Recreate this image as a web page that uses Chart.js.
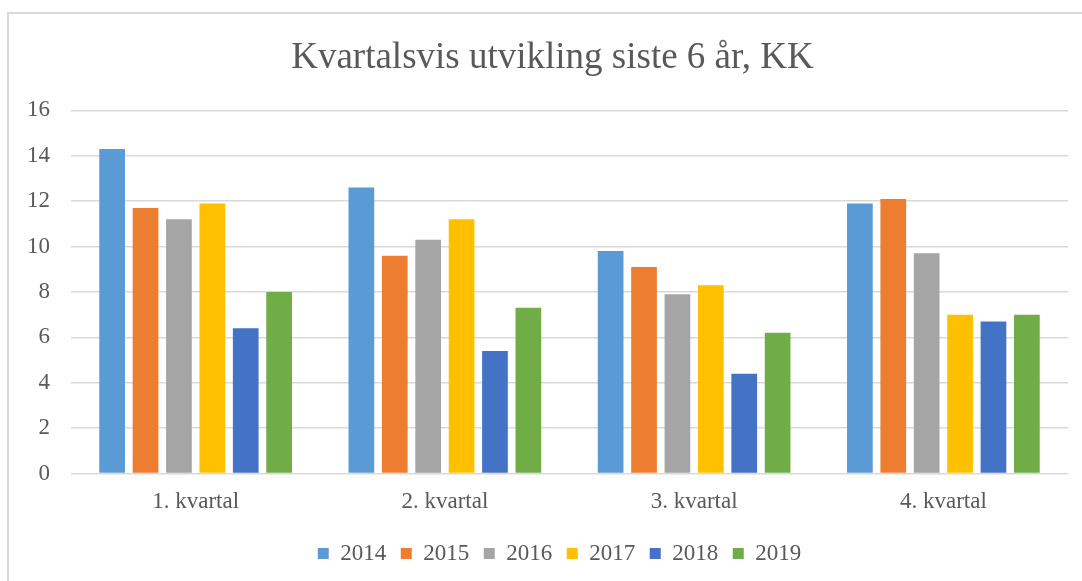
<!DOCTYPE html>
<html>
<head>
<meta charset="utf-8">
<script src="https://cdn.jsdelivr.net/npm/chart.js@4.4.1/dist/chart.umd.min.js"></script>
<style>
  html, body { margin: 0; padding: 0; background: #ffffff; }
  #wrap { position: relative; width: 1082px; height: 581px; overflow: hidden; }
  #frame { position: absolute; left: 7px; top: 12px; width: 1100px; height: 600px;
           border-left: 2px solid #d9d9d9; border-top: 2px solid #d9d9d9; box-sizing: border-box; }
  canvas { position: absolute; left: 0; top: 0; }
</style>
</head>
<body>
<div id="wrap">
  <div id="frame"></div>
  <canvas id="c" width="1082" height="581"></canvas>
</div>
<script>
const titleText = "Kvartalsvis utvikling siste 6 år, KK";
const categories = ["1. kvartal", "2. kvartal", "3. kvartal", "4. kvartal"];
const seriesNames = ["2014", "2015", "2016", "2017", "2018", "2019"];
const v2014 = [14.3, 12.6, 9.8, 11.9];
const v2015 = [11.7, 9.6, 9.1, 12.1];
const v2016 = [11.2, 10.3, 7.9, 9.7];
const v2017 = [11.9, 11.2, 8.3, 7.0];
const v2018 = [6.4, 5.4, 4.4, 6.7];
const v2019 = [8.0, 7.3, 6.2, 7.0];
const yTicks = [0, 2, 4, 6, 8, 10, 12, 14, 16];

const seriesValues = [v2014, v2015, v2016, v2017, v2018, v2019];
const colors = ["#5B9BD5", "#ED7D31", "#A5A5A5", "#FFC000", "#4472C4", "#70AD47"];
const textColor = "#595959";
const fontFamily = "'Liberation Serif', 'Times New Roman', serif";

const datasets = seriesNames.map((name, i) => ({
  label: name,
  data: seriesValues[i],
  backgroundColor: colors[i],
  borderWidth: 0,
  categoryPercentage: 0.804,
  barPercentage: 0.77
}));

const shiftBoxes = {
  id: "shiftBoxes",
  afterLayout(chart) {
    if (chart.titleBlock) { chart.titleBlock.left += 5; chart.titleBlock.right += 5; }
    if (chart.legend) { chart.legend.left += 12; chart.legend.right += 12; }
  }
};

new Chart(document.getElementById("c"), {
  type: "bar",
  data: { labels: categories, datasets: datasets },
  plugins: [shiftBoxes],
  options: {
    responsive: false,
    animation: false,
    layout: { padding: { left: 27, right: 14, top: 0, bottom: 6 } },
    plugins: {
      title: {
        display: true,
        text: titleText,
        color: textColor,
        font: { family: fontFamily, size: 37, weight: "normal" },
        padding: { top: 36, bottom: 30 }
      },
      legend: {
        position: "bottom",
        labels: {
          color: textColor,
          font: { family: fontFamily, size: 23 },
          boxWidth: 11,
          boxHeight: 11,
          padding: 14.5
        }
      },
      tooltip: { enabled: false }
    },
    scales: {
      x: {
        grid: { display: false, drawTicks: false },
        border: { display: false },
        ticks: { color: textColor, font: { family: fontFamily, size: 23 }, padding: 15 },
        afterFit: (s) => { s.height = 54; }
      },
      y: {
        min: 0,
        max: 16,
        afterBuildTicks: (s) => { s.ticks = yTicks.map(v => ({ value: v })); },
        afterFit: (s) => { s.width = 44; },
        grid: { color: "#d9d9d9", lineWidth: 1.5, drawTicks: false },
        border: { display: false },
        ticks: { color: textColor, font: { family: fontFamily, size: 23 }, padding: 21 }
      }
    }
  }
});
</script>
</body>
</html>
